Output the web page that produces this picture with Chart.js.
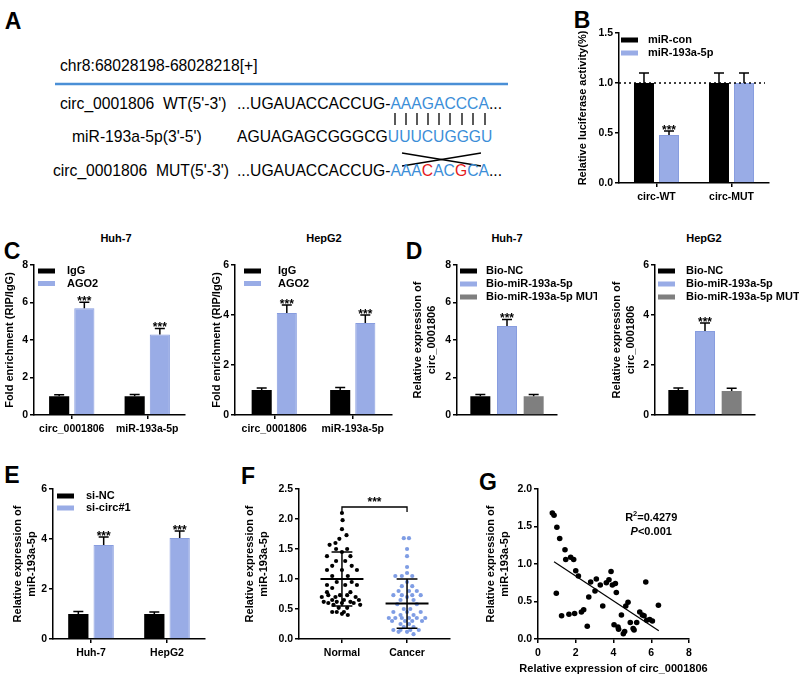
<!DOCTYPE html>
<html>
<head>
<meta charset="utf-8">
<script src="https://cdn.jsdelivr.net/npm/chart.js@4.4.1/dist/chart.umd.min.js"></script>
<style>
  html, body { margin: 0; padding: 0; background: #fff; }
  #fig { position: relative; width: 800px; height: 679px; overflow: hidden;
         font-family: 'Liberation Sans', Arial, sans-serif; color: #000; }
  #fig canvas { position: absolute; }
  .lab { position: absolute; transform: translate(-50%, -50%); font-weight: bold;
         white-space: pre; line-height: 1; }
  .letter { font-size: 23px; }
  .ttl { font-size: 11px; }
  .seq { position: absolute; font-size: 15.7px; line-height: 18px; white-space: pre; }
  .bl { color: #3b8ed8; }
  .rd { color: #e5191b; }
  #fig svg { position: absolute; left: 0; top: 0; }
</style>
</head>
<body>
<div id="fig">
  <!-- panel A: sequence alignment -->
  <svg width="800" height="200">
    <line x1="55" y1="84" x2="508" y2="84" stroke="#4a8fd6" stroke-width="2.5"/>
    <g stroke="#000" stroke-width="1.3">
      <line x1="395" y1="113" x2="395" y2="125"/>
      <line x1="406" y1="113" x2="406" y2="125"/>
      <line x1="417" y1="113" x2="417" y2="125"/>
      <line x1="428" y1="113" x2="428" y2="125"/>
      <line x1="439" y1="113" x2="439" y2="125"/>
      <line x1="450" y1="113" x2="450" y2="125"/>
      <line x1="462" y1="113" x2="462" y2="125"/>
      <line x1="473" y1="113" x2="473" y2="125"/>
      <line x1="485" y1="113" x2="485" y2="125"/>
      <line x1="402" y1="153" x2="481" y2="166"/>
      <line x1="402" y1="166" x2="481" y2="153"/>
    </g>
  </svg>
  <div class="seq" style="left:60px;top:57px">chr8:68028198-68028218[+]</div>
  <div class="seq" style="left:60px;top:95px">circ_0001806  WT(5'-3')</div>
  <div class="seq" style="left:237px;top:95px">...UGAUACCACCUG-<span class="bl">AAAGACCCA</span>...</div>
  <div class="seq" style="left:72px;top:128px">miR-193a-5p(3'-5')</div>
  <div class="seq" style="left:237px;top:128px">AGUAGAGCGGGCG<span class="bl">UUUCUGGGU</span></div>
  <div class="seq" style="left:53px;top:162px">circ_0001806  MUT(5'-3')</div>
  <div class="seq" style="left:237px;top:162px">...UGAUACCACCUG-<span class="bl">AAA</span><span class="rd">C</span><span class="bl">AC</span><span class="rd">G</span><span class="bl">CA</span>...</div>

  <div class="lab letter" style="left:13px;top:21px">A</div>
  <div class="lab letter" style="left:582px;top:20px">B</div>
  <div class="lab letter" style="left:12px;top:251px">C</div>
  <div class="lab letter" style="left:414px;top:251px">D</div>
  <div class="lab letter" style="left:12px;top:475px">E</div>
  <div class="lab letter" style="left:248px;top:476px">F</div>
  <div class="lab letter" style="left:488px;top:482px">G</div>

  <div class="lab ttl" style="left:116px;top:238px">Huh-7</div>
  <div class="lab ttl" style="left:324px;top:238px">HepG2</div>
  <div class="lab ttl" style="left:507px;top:238px">Huh-7</div>
  <div class="lab ttl" style="left:704px;top:238px">HepG2</div>
</div>

<script>
const FONT = "'Liberation Sans', Arial, sans-serif";
const BLACK = '#000000';
const BLUE = '#99ace6';
const BLUE_EDGE = '#889ddf';
const GRAY = '#7f7f7f';
const DOT_BLUE = '#7f9de4';

// B: luciferase reporter
const bCats   = ['circ-WT', 'circ-MUT'];
const bLabels = ['miR-con', 'miR-193a-5p'];
const bCon    = [1.00, 1.00];
const bConErr = [0.10, 0.10];
const bMir    = [0.48, 1.00];
const bMirErr = [0.04, 0.10];
const bStars  = ['***', ''];

// C: RIP assay
const cCats       = ['circ_0001806', 'miR-193a-5p'];
const cLabels     = ['IgG', 'AGO2'];
const cHuhIgG     = [1.00, 1.00];
const cHuhIgGErr  = [0.08, 0.10];
const cHuhAgo     = [5.70, 4.30];
const cHuhAgoErr  = [0.32, 0.32];
const cHepIgG     = [1.00, 1.00];
const cHepIgGErr  = [0.08, 0.10];
const cHepAgo     = [4.08, 3.68];
const cHepAgoErr  = [0.32, 0.32];
const cStars      = ['***', '***'];

// D: biotin pull-down
const dLabels  = ['Bio-NC', 'Bio-miR-193a-5p', 'Bio-miR-193a-5p MUT'];
const dHuh     = [1.00, 4.75, 1.00];
const dHuhErr  = [0.10, 0.35, 0.10];
const dHep     = [1.00, 3.36, 0.96];
const dHepErr  = [0.08, 0.32, 0.11];
const dStars   = ['', '***', ''];

// E: knockdown
const eCats    = ['Huh-7', 'HepG2'];
const eLabels  = ['si-NC', 'si-circ#1'];
const eNC      = [1.00, 1.00];
const eNCErr   = [0.10, 0.08];
const eSi      = [3.76, 4.04];
const eSiErr   = [0.32, 0.28];
const eStars   = ['***', '***'];

// F: tissue expression (y value + horizontal jitter, in category units)
const fGroups  = ['Normal', 'Cancer'];
const normalY  = [2.1,1.98,1.83,1.73,1.67,1.6,1.57,1.5,1.5,1.45,1.38,1.38,1.3,1.3,1.22,1.22,1.15,1.15,1.15,1.05,
                  1.05,0.95,0.95,0.9,0.9,0.9,0.85,0.78,0.78,0.73,0.73,0.73,0.7,0.7,0.7,0.65,0.65,0.65,0.62,0.62,
                  0.62,0.6,0.6,0.6,0.57,0.57,0.52,0.52,0.45,0.45,0.45,0.42,0.4];
const normalDx = [0,0.01,0,0.07,-0.04,-0.10,-0.19,-0.09,0.08,0,-0.23,0.13,-0.09,0.05,-0.15,0.15,-0.23,0,0.23,-0.15,
                  0.09,-0.08,0.15,-0.23,0.05,0.23,-0.15,0.13,-0.23,-0.21,-0.03,0.08,-0.31,-0.10,0.21,-0.15,0.03,0.26,-0.28,-0.08,
                  0.13,-0.21,0,0.18,0.28,-0.13,-0.05,0.08,-0.08,0.03,-0.15,0,0.09];
const cancerY  = [1.68,1.68,1.5,1.38,1.2,1.1,1.05,1.05,1.05,0.95,0.88,0.88,0.8,0.8,0.8,0.73,0.73,0.73,0.73,0.7,
                  0.65,0.65,0.58,0.58,0.5,0.5,0.45,0.45,0.45,0.4,0.4,0.35,0.35,0.35,0.35,0.35,0.35,0.3,0.3,0.3,
                  0.3,0.25,0.25,0.2,0.2,0.15,0.15,0.15,0.15,0.12,0.12,0.08];
const cancerDx = [0.03,-0.05,0,0,0,0,-0.08,0.08,-0.18,0,-0.08,0.08,-0.13,0.03,0.15,-0.21,-0.08,0.08,0.21,0,
                  -0.10,0.10,-0.15,0.15,-0.05,0.05,-0.21,0,0.21,-0.10,0.10,-0.28,-0.18,-0.08,0.03,0.15,0.28,-0.23,-0.03,0.08,
                  0.23,-0.10,0.03,-0.05,0.10,-0.21,-0.10,0.05,0.18,0,-0.13,0.10];
const fMean    = [1.00, 0.59];
const fSd      = [0.45, 0.41];
const fBracket = 2.2;

// G: correlation
const gX = [0.76,0.85,1.0,1.15,0.97,1.25,1.43,1.47,1.73,1.89,1.64,1.94,2.0,2.14,2.3,2.42,2.61,2.69,2.79,3.02,
            3.09,3.3,3.43,3.62,3.76,3.87,3.94,4.1,4.15,4.03,4.24,4.27,4.42,4.52,4.59,4.65,4.77,4.89,5.04,5.09,
            5.23,5.39,5.53,5.62,5.71,5.76,5.92,6.06,6.38];
const gY = [1.68,1.65,1.49,1.34,0.61,0.31,1.19,1.06,1.09,1.06,0.33,0.34,0.91,0.84,0.36,0.39,0.17,0.56,0.76,0.64,
            0.80,0.72,0.44,0.75,0.79,0.90,0.72,0.74,0.62,0.19,0.16,0.13,0.32,0.07,0.10,0.44,0.49,0.22,0.14,0.12,
            0.22,0.36,0.32,0.31,0.76,0.25,0.26,0.24,0.45];
const gFitX = [0.85, 6.40];
const gFitY = [1.03, 0.11];

// plot-area boxes on the page (left/top/right/bottom), y-axis width, x-axis height, right pad
const POS = {
  B:  { l: 619, t: 33,  r: 769, b: 183, yW: 43, xH: 30, pR: 12 },
  C1: { l: 34,  t: 265, r: 185, b: 415, yW: 31, xH: 25, pR: 12 },
  C2: { l: 235, t: 265, r: 392, b: 415, yW: 25, xH: 25, pR: 12 },
  D1: { l: 457, t: 265, r: 557, b: 415, yW: 46, xH: 10, pR: 40 },
  D2: { l: 655, t: 265, r: 755, b: 415, yW: 45, xH: 10, pR: 44 },
  E:  { l: 53,  t: 489, r: 205, b: 639, yW: 42, xH: 25, pR: 12 },
  F:  { l: 299, t: 489, r: 450, b: 639, yW: 56, xH: 25, pR: 12 },
  G:  { l: 538, t: 489, r: 689, b: 639, yW: 54, xH: 37, pR: 30 },
};
const TITLE_LH = 14;   // line step of the stacked axis-title lines

function font(size, extra) {
  return Object.assign({ family: FONT, size, weight: 'bold' }, extra || {});
}

function mount(p) {
  const padT = 10;
  const w = p.r - p.l + p.yW + p.pR, h = p.b - p.t + padT + p.xH;
  const c = document.createElement('canvas');
  c.width = w; c.height = h;
  c.style.left = (p.l - p.yW) + 'px';
  c.style.top = (p.t - padT) + 'px';
  c.style.width = w + 'px';
  c.style.height = h + 'px';
  document.getElementById('fig').appendChild(c);
  return { canvas: c, padding: { top: padT, right: p.pR, left: 0, bottom: 0 } };
}

function yAxis(min, max, step, yW, dec) {
  return {
    min, max,
    ticks: { stepSize: step, color: BLACK, font: font(10.5), padding: 2,
             callback: v => v.toFixed(dec) },
    grid: { drawOnChartArea: false, tickLength: 4, color: BLACK, lineWidth: 1.5 },
    border: { color: BLACK, width: 1.5 },
    afterFit: s => { s.width = yW; },
  };
}

function xCat(xH, show) {
  return {
    offset: true,
    ticks: { display: show, color: BLACK, font: font(10.5), padding: 4, autoSkip: false, maxRotation: 0 },
    grid: { offset: false, drawOnChartArea: false, drawTicks: show, tickLength: 4, color: BLACK, lineWidth: 1.5 },
    border: { color: BLACK, width: 1.5 },
    afterFit: s => { s.height = xH; },
  };
}

// ── plugins ────────────────────────────────────────────────────────────
// Axis titles drawn by hand: Chart.js squeezes scale titles to the axis length.
const axisTitles = {
  id: 'axisTitles',
  afterDraw(chart, args, o) {
    const { ctx, chartArea: a } = chart;
    ctx.save();
    ctx.fillStyle = BLACK; ctx.font = `bold 11px ${FONT}`;
    ctx.textAlign = 'center'; ctx.textBaseline = 'middle';
    if (o.y) {
      const cy = (a.top + a.bottom) / 2;
      [].concat(o.y).forEach((t, i) => {
        ctx.save();
        ctx.translate(7 + i * TITLE_LH, cy);
        ctx.rotate(-Math.PI / 2);
        ctx.fillText(t, 0, 0);
        ctx.restore();
      });
    }
    if (o.x) ctx.fillText(o.x, (a.left + a.right) / 2, chart.height - 7);
    ctx.restore();
  },
};

const errorBars = {
  id: 'errorBars',
  afterDatasetsDraw(chart) {
    const { ctx, scales: { y } } = chart;
    ctx.save();
    ctx.strokeStyle = BLACK; ctx.lineWidth = 1.5; ctx.fillStyle = BLACK;
    ctx.font = `bold 12px ${FONT}`; ctx.textAlign = 'center'; ctx.textBaseline = 'alphabetic';
    chart.data.datasets.forEach((ds, i) => {
      if (!ds.err) return;
      chart.getDatasetMeta(i).data.forEach((bar, j) => {
        const top = y.getPixelForValue(ds.data[j] + ds.err[j]);
        ctx.beginPath();
        ctx.moveTo(bar.x, bar.y); ctx.lineTo(bar.x, top);
        ctx.moveTo(bar.x - 5, top); ctx.lineTo(bar.x + 5, top);
        ctx.stroke();
        if (ds.stars && ds.stars[j]) ctx.fillText(ds.stars[j], bar.x, top + 3);
      });
    });
    ctx.restore();
  },
};

const insetLegend = {
  id: 'insetLegend',
  afterDraw(chart, args, o) {
    if (!o || !o.show) return;
    const { ctx, chartArea: a } = chart;
    ctx.save();
    ctx.font = `bold 11px ${FONT}`; ctx.textBaseline = 'middle'; ctx.textAlign = 'left';
    chart.data.datasets.forEach((ds, i) => {
      const y = a.top + o.top + i * o.gap, x = a.left + o.left;
      ctx.fillStyle = ds.backgroundColor; ctx.fillRect(x, y - 2.5, 17, 5);
      ctx.fillStyle = BLACK; ctx.fillText(ds.label, x + o.text, y);
    });
    ctx.restore();
  },
};

const refLine = {
  id: 'refLine',
  afterDatasetsDraw(chart, args, o) {
    if (!o || o.value == null) return;
    const { ctx, chartArea: a, scales: { y } } = chart;
    const py = y.getPixelForValue(o.value);
    ctx.save();
    ctx.setLineDash([2, 3]); ctx.lineWidth = 1.5; ctx.strokeStyle = BLACK;
    ctx.beginPath(); ctx.moveTo(a.left, py); ctx.lineTo(a.right - 4, py); ctx.stroke();
    ctx.restore();
  },
};

const meanSd = {
  id: 'meanSd',
  afterDatasetsDraw(chart) {
    const { ctx, scales: { x, y } } = chart;
    const seg = (x0, x1, y0, y1) => {
      ctx.moveTo(x.getPixelForValue(x0), y.getPixelForValue(y0));
      ctx.lineTo(x.getPixelForValue(x1), y.getPixelForValue(y1));
    };
    ctx.save();
    ctx.strokeStyle = BLACK;
    fMean.forEach((m, i) => {
      const cx = i + 1, s = fSd[i];
      ctx.lineWidth = 2;
      ctx.beginPath(); seg(cx - 0.33, cx + 0.33, m, m); ctx.stroke();
      ctx.lineWidth = 1.5;
      ctx.beginPath();
      seg(cx - 0.16, cx + 0.16, m + s, m + s);
      seg(cx - 0.16, cx + 0.16, m - s, m - s);
      seg(cx, cx, m - s, m + s);
      ctx.stroke();
    });
    // significance bracket
    const by = y.getPixelForValue(fBracket);
    const x1 = x.getPixelForValue(1), x2 = x.getPixelForValue(2);
    ctx.lineWidth = 1.3;
    ctx.beginPath();
    ctx.moveTo(x1, by + 5); ctx.lineTo(x1, by); ctx.lineTo(x2, by); ctx.lineTo(x2, by + 5);
    ctx.stroke();
    ctx.font = `bold 12px ${FONT}`; ctx.textAlign = 'center'; ctx.fillStyle = BLACK;
    ctx.fillText('***', (x1 + x2) / 2, by - 1);
    ctx.restore();
  },
};

const statText = {
  id: 'statText',
  afterDraw(chart, args, o) {
    if (!o || o.x == null) return;
    const { ctx, scales: { x, y } } = chart;
    const cx = x.getPixelForValue(o.x), y1 = y.getPixelForValue(o.y1), y2 = y.getPixelForValue(o.y2);
    ctx.save();
    ctx.fillStyle = BLACK; ctx.textBaseline = 'middle'; ctx.textAlign = 'left';
    const big = `bold 11px ${FONT}`, small = `bold 7.5px ${FONT}`, ital = `italic bold 11px ${FONT}`;
    ctx.font = big; const wR = ctx.measureText('R').width, wRest = ctx.measureText('=0.4279').width;
    ctx.font = small; const w2 = ctx.measureText('2').width;
    let sx = cx - (wR + w2 + wRest) / 2;
    ctx.font = big; ctx.fillText('R', sx, y1);
    ctx.font = small; ctx.fillText('2', sx + wR, y1 - 4);
    ctx.font = big; ctx.fillText('=0.4279', sx + wR + w2, y1);
    ctx.font = ital; const wP = ctx.measureText('P').width;
    ctx.font = big; const wLt = ctx.measureText('<0.001').width;
    sx = cx - (wP + wLt) / 2;
    ctx.font = ital; ctx.fillText('P', sx, y2);
    ctx.font = big; ctx.fillText('<0.001', sx + wP, y2);
    ctx.restore();
  },
};

// ── builders ───────────────────────────────────────────────────────────
function barDs(label, data, err, color, stars) {
  const blue = color === BLUE;
  return {
    label, data, err, stars,
    backgroundColor: color,
    borderColor: blue ? BLUE_EDGE : color,
    borderWidth: blue ? 1 : 0,
    borderSkipped: 'bottom',
  };
}

function barChart(p, cfg) {
  const m = mount(p);
  return new Chart(m.canvas, {
    type: 'bar',
    data: { labels: cfg.labels, datasets: cfg.datasets },
    options: {
      responsive: false,
      animation: false,
      layout: { padding: m.padding },
      datasets: { bar: { categoryPercentage: cfg.catPct, barPercentage: cfg.barPct } },
      plugins: {
        legend: { display: false },
        tooltip: { enabled: false },
        insetLegend: Object.assign({ show: true }, cfg.legend),
        refLine: cfg.refLine || {},
        axisTitles: { y: cfg.yTitle },
      },
      scales: {
        x: xCat(p.xH, cfg.showX !== false),
        y: yAxis(cfg.y[0], cfg.y[1], cfg.y[2], p.yW, cfg.y[3] || 0),
      },
    },
    plugins: [errorBars, insetLegend, refLine, axisTitles],
  });
}

// B
barChart(POS.B, {
  labels: bCats,
  datasets: [
    barDs(bLabels[0], bCon, bConErr, BLACK),
    barDs(bLabels[1], bMir, bMirErr, BLUE, bStars),
  ],
  catPct: 0.667, barPct: 0.8,
  y: [0, 1.5, 0.5, 1], yTitle: 'Relative luciferase activity(%)',
  legend: { left: 2, text: 27, top: 7, gap: 13 },
  refLine: { value: 1.0 },
});

// C left / right
barChart(POS.C1, {
  labels: cCats,
  datasets: [
    barDs(cLabels[0], cHuhIgG, cHuhIgGErr, BLACK),
    barDs(cLabels[1], cHuhAgo, cHuhAgoErr, BLUE, cStars),
  ],
  catPct: 0.667, barPct: 0.8,
  y: [0, 8, 2], yTitle: 'Fold enrichment (RIP/IgG)',
  legend: { left: 4, text: 29, top: 6, gap: 12.5 },
});
barChart(POS.C2, {
  labels: cCats,
  datasets: [
    barDs(cLabels[0], cHepIgG, cHepIgGErr, BLACK),
    barDs(cLabels[1], cHepAgo, cHepAgoErr, BLUE, cStars),
  ],
  catPct: 0.64, barPct: 0.8,
  y: [0, 6, 2], yTitle: 'Fold enrichment (RIP/IgG)',
  legend: { left: 9, text: 34, top: 6, gap: 12.5 },
});

// D left / right (one category, three bars)
const dColors = [BLACK, BLUE, GRAY];
barChart(POS.D1, {
  labels: [''],
  datasets: dLabels.map((l, i) => barDs(l, [dHuh[i]], [dHuhErr[i]], dColors[i], [dStars[i]])),
  catPct: 0.8, barPct: 0.75, showX: false,
  y: [0, 8, 2], yTitle: ['Relative expression of', 'circ_0001806'],
  legend: { left: 3, text: 26, top: 6, gap: 13 },
});
barChart(POS.D2, {
  labels: [''],
  datasets: dLabels.map((l, i) => barDs(l, [dHep[i]], [dHepErr[i]], dColors[i], [dStars[i]])),
  catPct: 0.8, barPct: 0.75, showX: false,
  y: [0, 6, 2], yTitle: ['Relative expression of', 'circ_0001806'],
  legend: { left: 3, text: 28, top: 6, gap: 13 },
});

// E
barChart(POS.E, {
  labels: eCats,
  datasets: [
    barDs(eLabels[0], eNC, eNCErr, BLACK),
    barDs(eLabels[1], eSi, eSiErr, BLUE, eStars),
  ],
  catPct: 0.667, barPct: 0.8,
  y: [0, 6, 2], yTitle: ['Relative expression of', 'miR-193a-5p'],
  legend: { left: 4, text: 29, top: 7, gap: 12 },
});

// F: dot plot with mean ± SD
(function () {
  const p = POS.F, m = mount(p);
  new Chart(m.canvas, {
    type: 'scatter',
    data: {
      datasets: [
        { data: normalY.map((v, i) => ({ x: 1 + normalDx[i], y: v })),
          backgroundColor: BLACK, borderWidth: 0, pointRadius: 2.1 },
        { data: cancerY.map((v, i) => ({ x: 2 + cancerDx[i], y: v })),
          backgroundColor: DOT_BLUE, borderWidth: 0, pointRadius: 2.1 },
      ],
    },
    options: {
      responsive: false, animation: false,
      layout: { padding: m.padding },
      plugins: {
        legend: { display: false }, tooltip: { enabled: false },
        axisTitles: { y: ['Relative expression of', 'miR-193a-5p'] },
      },
      scales: {
        x: {
          type: 'linear', min: 0.34, max: 2.66,
          afterBuildTicks: s => { s.ticks = [{ value: 1 }, { value: 2 }]; },
          ticks: { color: BLACK, font: font(10.5), padding: 4, callback: (v, i) => fGroups[i] },
          grid: { drawOnChartArea: false, tickLength: 4, color: BLACK, lineWidth: 1.5 },
          border: { color: BLACK, width: 1.5 },
          afterFit: s => { s.height = p.xH; },
        },
        y: yAxis(0, 2.5, 0.5, p.yW, 1),
      },
    },
    plugins: [meanSd, axisTitles],
  });
})();

// G: correlation scatter
(function () {
  const p = POS.G, m = mount(p);
  new Chart(m.canvas, {
    type: 'scatter',
    data: {
      datasets: [
        { data: gX.map((v, i) => ({ x: v, y: gY[i] })),
          backgroundColor: BLACK, borderWidth: 0, pointRadius: 2.8 },
        { data: gFitX.map((v, i) => ({ x: v, y: gFitY[i] })),
          showLine: true, borderColor: BLACK, borderWidth: 1.2, pointRadius: 0, fill: false },
      ],
    },
    options: {
      responsive: false, animation: false,
      layout: { padding: m.padding },
      plugins: {
        legend: { display: false }, tooltip: { enabled: false },
        statText: { x: 6.0, y1: 1.61, y2: 1.43 },
        axisTitles: { y: ['Relative expression of', 'miR-193a-5p'], x: 'Relative expression of circ_0001806' },
      },
      scales: {
        x: {
          type: 'linear', min: 0, max: 8,
          ticks: { stepSize: 2, color: BLACK, font: font(10.5), padding: 4 },
          grid: { drawOnChartArea: false, tickLength: 4, color: BLACK, lineWidth: 1.5 },
          border: { color: BLACK, width: 1.5 },
          afterFit: s => { s.height = p.xH; },
        },
        y: yAxis(0, 2, 0.5, p.yW, 1),
      },
    },
    plugins: [statText, axisTitles],
  });
})();
</script>
</body>
</html>
